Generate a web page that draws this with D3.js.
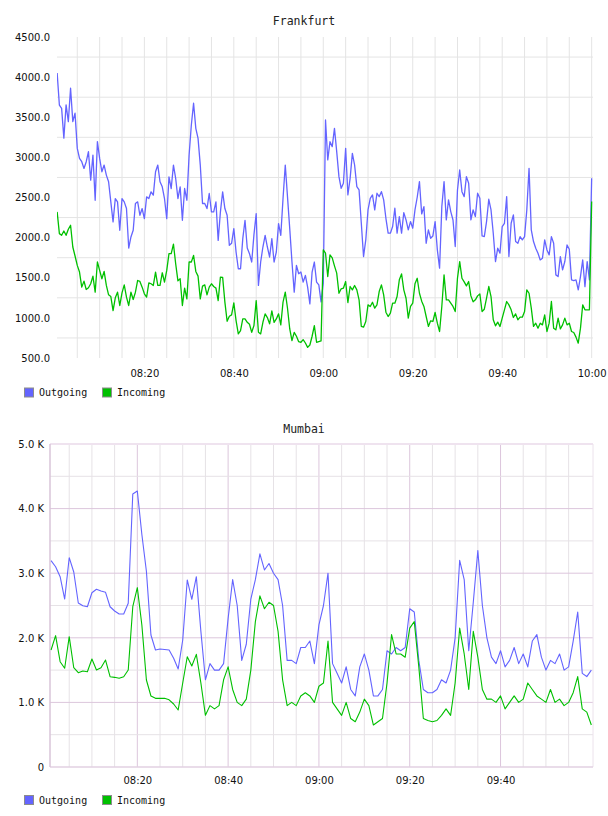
<!DOCTYPE html>
<html>
<head>
<meta charset="utf-8">
<script src="https://cdn.jsdelivr.net/npm/d3@7"></script>
<style>
body { margin: 0; background: #fff; }
svg { display: block; }
</style>
</head>
<body>
<div id="charts"></div>
<script>
// Frankfurt: one sample every 30 s starting 08:00:30
const fraStart = '08:00:30'
const fraStepSec = 30
const fraOutgoing = [
	4050, 3650, 3610, 3240, 3654, 3446, 3862, 3446, 3550, 3112,
	2987, 2946, 2862, 2946, 3070, 2716, 3029, 2466, 3196, 2987,
	2821, 2904, 2779, 2696, 2446, 2196, 2487, 2446, 2091, 2487,
	2446, 2362, 1870, 2008, 2091, 2425, 2446, 2279, 2362, 2237,
	2508, 2487, 2571, 2529, 2821, 2904, 2696, 2633, 2487, 2237,
	2758, 2612, 2904, 2737, 2487, 2633, 2216, 2612, 2466, 3029,
	3404, 3675, 3362, 3237, 2904, 2425, 2425, 2362, 2550, 2321,
	2321, 2446, 1966, 2321, 2571, 2362, 2279, 1904, 1929, 2112,
	1821, 1612, 1612, 1987, 2216, 1870, 1800, 1696, 2037, 2300,
	1404, 1696, 1883, 2029, 1883, 1758, 1987, 1696, 1821, 2175,
	2029, 2487, 2904, 2508, 2112, 1696, 1321, 1654, 1550, 1571,
	1446, 1529, 1383, 1175, 1571, 1696, 1446, 1411, 1200, 1432,
	3466, 2968, 3196, 3134, 3362, 3071, 2760, 2615, 2677, 3113,
	2532, 2739, 3050, 2905, 2636, 2594, 2179, 1764, 1972, 2345,
	2490, 2532, 2345, 2553, 2511, 2573, 2470, 2241, 2055, 2055,
	2138, 2366, 2055, 2262, 2055, 2312, 2220, 2096, 2200, 2117,
	2345, 2503, 2698, 2295, 2386, 1930, 2096, 1992, 2021, 2200,
	1847, 1619, 2386, 2698, 2220, 2470, 2324, 2220, 1889, 2594,
	2843, 2573, 2511, 2760, 2677, 2220, 2345, 2262, 2553, 2490,
	2021, 2013, 2200, 2478, 2345, 2055, 1702, 1868, 1806, 2138,
	2179, 2511, 1764, 2179, 2283, 1951, 1930, 2013, 1972, 2013,
	2345, 2864, 2096, 1951, 1868, 1806, 1722, 1743, 1972, 1847,
	1785, 2013, 1930, 1536, 1515, 1764, 1598, 1702, 1909, 1855,
	1474, 1465, 1474, 1349, 1515, 1722, 1390, 1702, 1474, 2739
]
const fraIncoming = [
	2321, 2050, 2029, 2083, 2029, 2104, 2154, 1883, 1771, 1654,
	1571, 1383, 1458, 1354, 1375, 1425, 1520, 1320, 1696, 1591,
	1487, 1579, 1404, 1287, 1266, 1091, 1250, 1320, 1154, 1312,
	1412, 1258, 1154, 1320, 1229, 1320, 1466, 1454, 1383, 1300,
	1258, 1437, 1425, 1404, 1571, 1404, 1404, 1562, 1446, 1591,
	1800, 1800, 1920, 1675, 1462, 1487, 1154, 1371, 1237, 1696,
	1696, 1779, 1579, 1520, 1237, 1396, 1412, 1287, 1383, 1425,
	1391, 1371, 1216, 1508, 1504, 1196, 958, 1020, 1037, 1187,
	966, 800, 841, 987, 987, 945, 920, 820, 904, 1216,
	820, 800, 945, 1050, 1004, 925, 1087, 945, 987, 1050,
	912, 1196, 1320, 1120, 862, 716, 820, 771, 704, 696,
	729, 687, 633, 662, 771, 904, 696, 704, 712, 1847,
	1806, 1515, 1785, 1747, 1648, 1557, 1307, 1362, 1370, 1453,
	1191, 1391, 1349, 1403, 1349, 1225, 893, 884, 955, 1162,
	1142, 1195, 1121, 1162, 1328, 1411, 1287, 1071, 1017, 1058,
	1183, 1183, 1266, 1474, 1548, 1349, 1245, 997, 1142, 1183,
	1424, 1494, 1307, 1208, 1142, 1017, 893, 963, 955, 1067,
	934, 830, 1142, 1536, 1225, 1225, 1183, 1142, 1079, 1494,
	1702, 1494, 1449, 1399, 1453, 1274, 1200, 1225, 1274, 1299,
	1079, 1108, 1245, 1391, 1266, 976, 901, 947, 893, 997,
	1100, 1204, 1162, 1100, 1005, 1050, 976, 1009, 1009, 1079,
	1349, 1307, 1121, 893, 934, 872, 934, 913, 1038, 830,
	934, 1204, 872, 851, 997, 863, 913, 997, 913, 934,
	830, 818, 760, 685, 872, 1162, 1100, 1100, 1100, 2449
]

// Mumbai: one sample per minute starting 08:01
const mumStart = '08:01:00'
const mumStepSec = 60
const mumOutgoing = [
	3194, 3100, 2946, 2600, 3240, 3019, 2539, 2497, 2481, 2698,
	2751, 2724, 2704, 2481, 2415, 2368, 2368, 2534, 4226, 4272,
	3600, 3030, 2043, 1811, 1827, 1819, 1811, 1683, 1517, 1966,
	2895, 2596, 2946, 2100, 1350, 1600, 1500, 1500, 1600, 2300,
	2900, 2500, 1650, 1900, 2600, 2900, 3300, 3050, 3150, 3000,
	2900, 2500, 1650, 1650, 1600, 1850, 1850, 1950, 1600, 2200,
	2500, 3000, 1600, 1450, 1300, 1550, 1200, 1100, 1550, 1750,
	1500, 1100, 1100, 1200, 1800, 1750, 1850, 1800, 1850, 2450,
	2400, 1650, 1200, 1150, 1150, 1200, 1350, 1300, 1500, 2000,
	3200, 2900, 1800, 2550, 3350, 2500, 2000, 1700, 1600, 1800,
	1550, 1650, 1850, 1600, 1750, 1550, 1950, 2050, 1700, 1500,
	1650, 1600, 1750, 1500, 1550, 1950, 2400, 1450, 1400, 1500
]
const mumIncoming = [
	1811, 2033, 1630, 1528, 2017, 1537, 1460, 1486, 1475, 1672,
	1502, 1537, 1656, 1398, 1388, 1373, 1398, 1502, 2481, 2776,
	2198, 1347, 1099, 1063, 1063, 1063, 1040, 975, 882, 1300,
	1707, 1563, 1744, 1300, 800, 950, 900, 950, 1350, 1550,
	1200, 1000, 950, 1050, 1500, 2250, 2650, 2450, 2550, 2500,
	2100, 1350, 950, 1000, 950, 1100, 1150, 1100, 1000, 1250,
	1300, 1950, 1000, 900, 800, 1000, 750, 700, 850, 1050,
	950, 650, 700, 750, 1300, 2050, 1750, 1750, 1700, 2150,
	2250, 1550, 750, 720, 700, 720, 800, 900, 800, 1300,
	2150, 1750, 1200, 2100, 1700, 1200, 1050, 1050, 1000, 1100,
	900, 1000, 1100, 1000, 1050, 1300, 1200, 1100, 1050, 1000,
	1200, 1000, 1050, 950, 1000, 1150, 1400, 900, 850, 650
]

const fraYTicks = [500, 1000, 1500, 2000, 2500, 3000, 3500, 4000, 4500]
const mumYTicks = [0, 1000, 2000, 3000, 4000, 5000]
const fraTimeLabels = ['08:20', '08:40', '09:00', '09:20', '09:40', '10:00']
const mumTimeLabels = ['08:20', '08:40', '09:00', '09:20', '09:40']
const seriesNames = ['Outgoing', 'Incoming']
const seriesColors = ['#6464ff', '#00c000']

const width = 608
const height = 816

const parseTime = d3.timeParse('%H:%M:%S')
const fmtTime = d3.timeFormat('%H:%M')

// timestamps for a fixed-interval series
function seriesTimes(start, stepSec, n) {
	const t0 = parseTime(start)
	return d3.range(n).map(i => new Date(+t0 + i * stepSec * 1000))
}

const svg = d3.select('#charts')
	.append('svg')
	.attr('width', width)
	.attr('height', height)

// draws one panel: grid, axes, the two lines and the legend
function drawPanel(cfg) {
	const g = svg.append('g')

	const x = d3.scaleTime()
		.domain([parseTime(cfg.from), parseTime(cfg.to)])
		.range([cfg.left, cfg.right])
	const y = d3.scaleLinear()
		.domain(d3.extent(cfg.yTicks))
		.range([cfg.bottom, cfg.top])

	const times = seriesTimes(cfg.start, cfg.step, cfg.series[0].length)

	// title
	g.append('text')
		.attr('x', 304)
		.attr('y', cfg.titleY)
		.attr('text-anchor', 'middle')
		.style('font', '11.5px "DejaVu Sans Mono", monospace')
		.style('fill', '#222')
		.text(cfg.title)

	// vertical grid, every 5 minutes
	const gridTimes = d3.timeMinute.every(5).range(parseTime('08:05:00'), parseTime(cfg.gridEnd))
	g.append('g')
		.selectAll('line')
		.data(gridTimes)
		.join('line')
		.attr('x1', d => x(d))
		.attr('x2', d => x(d))
		.attr('y1', cfg.top)
		.attr('y2', cfg.bottom)
		.attr('stroke', d => (cfg.major && d.getMinutes() % 20 == 0) ? cfg.major : cfg.minor)
		.attr('stroke-width', 1)

	// horizontal grid
	g.append('g')
		.selectAll('line')
		.data(cfg.hGrid)
		.join('line')
		.attr('x1', cfg.left)
		.attr('x2', cfg.right)
		.attr('y1', d => y(d.v))
		.attr('y2', d => y(d.v))
		.attr('stroke', d => d.major ? cfg.major : cfg.minor)
		.attr('stroke-width', 1)

	// frame (Mumbai only)
	if (cfg.frame) {
		const f = g.append('g').attr('fill', 'none')
		f.append('line').attr('x1', cfg.left).attr('x2', cfg.right).attr('y1', cfg.top).attr('y2', cfg.top)
			.attr('stroke', '#efe3ef').attr('stroke-width', 2)
		f.append('line').attr('x1', cfg.right).attr('x2', cfg.right).attr('y1', cfg.top).attr('y2', cfg.bottom)
			.attr('stroke', '#ece2ec')
		f.append('line').attr('x1', cfg.left).attr('x2', cfg.right).attr('y1', cfg.bottom).attr('y2', cfg.bottom)
			.attr('stroke', '#e2d0e2').attr('stroke-width', 1.5)
		f.append('line').attr('x1', cfg.left).attr('x2', cfg.left).attr('y1', cfg.top).attr('y2', cfg.bottom)
			.attr('stroke', '#d8c4d8').attr('stroke-width', 1.5)
	}

	// axes
	const yAxis = g.append('g')
		.attr('transform', `translate(${cfg.left},0)`)
		.call(d3.axisLeft(y).tickValues(cfg.yTicks).tickSize(0).tickPadding(cfg.yPad).tickFormat(cfg.yFormat))
	const xAxis = g.append('g')
		.attr('transform', `translate(0,${cfg.bottom})`)
		.call(d3.axisBottom(x).tickValues(cfg.xLabels.map(s => parseTime(s + ':00'))).tickSize(0).tickPadding(cfg.xPad).tickFormat(fmtTime))
	for (const ax of [yAxis, xAxis]) {
		ax.select('.domain').remove()
		ax.selectAll('text')
			.style('font-family', '"DejaVu Sans", sans-serif')
			.style('font-size', '10px')
			.style('fill', '#111')
	}

	// lines
	const clipId = 'clip-' + cfg.title
	g.append('clipPath').attr('id', clipId)
		.append('rect')
		.attr('x', cfg.left).attr('y', cfg.top - 2)
		.attr('width', cfg.right - cfg.left).attr('height', cfg.bottom - cfg.top + 2)

	const line = d3.line()
		.x((d, i) => x(times[i]))
		.y(d => y(d))

	g.append('g')
		.attr('clip-path', `url(#${clipId})`)
		.selectAll('path')
		.data(cfg.series)
		.join('path')
		.attr('d', line)
		.attr('fill', 'none')
		.attr('stroke', (d, i) => seriesColors[i])
		.attr('stroke-width', cfg.lineWidth)
		.attr('stroke-linejoin', 'round')

	// legend
	const legend = g.append('g')
		.selectAll('g')
		.data(seriesNames)
		.join('g')
		.attr('transform', (d, i) => `translate(${24 + i * 78},${cfg.legendY})`)
	legend.append('rect')
		.attr('x', 0.5).attr('y', -4.5)
		.attr('width', 9).attr('height', 9)
		.attr('fill', (d, i) => seriesColors[i])
		.attr('stroke', '#8c8c8c')
	legend.append('text')
		.attr('x', 15)
		.attr('y', 0)
		.attr('dy', '0.35em')
		.style('font', '10px "DejaVu Sans Mono", monospace')
		.style('fill', '#111')
		.text(d => d)
}

// Frankfurt gridlines sit half way between the labels
const fraGrid = d3.pairs(fraYTicks).map(([a, b]) => ({ v: (a + b) / 2, major: false }))
drawPanel({
	title: 'Frankfurt',
	titleY: 25,
	left: 57, right: 593, top: 37, bottom: 358,
	from: '08:00:28', to: '10:00:18',
	gridEnd: '10:00:01',
	start: fraStart, step: fraStepSec,
	series: [fraOutgoing, fraIncoming],
	yTicks: fraYTicks,
	yFormat: d => d.toFixed(1),
	yPad: 7,
	xLabels: fraTimeLabels,
	xPad: 12,
	hGrid: fraGrid,
	minor: '#e4e4e4',
	major: null,
	frame: false,
	lineWidth: 1.3,
	legendY: 392.5
})

// Mumbai: full grid at each thousand, light lines half way
const mumGrid = d3.pairs(mumYTicks).flatMap(([a, b]) => [{ v: (a + b) / 2, major: false }, { v: b, major: b < 5000 }])
drawPanel({
	title: 'Mumbai',
	titleY: 432.5,
	left: 50, right: 593, top: 444, bottom: 767,
	from: '08:00:46', to: '10:00:22',
	gridEnd: '09:56:00',
	start: mumStart, step: mumStepSec,
	series: [mumOutgoing, mumIncoming],
	yTicks: mumYTicks,
	yFormat: d => d == 0 ? '0' : (d / 1000).toFixed(1) + ' K',
	yPad: 6,
	xLabels: mumTimeLabels,
	xPad: 10,
	hGrid: mumGrid,
	minor: '#e6e2e6',
	major: '#dcc6dc',
	frame: true,
	lineWidth: 1.1,
	legendY: 800
})
</script>
</body>
</html>
